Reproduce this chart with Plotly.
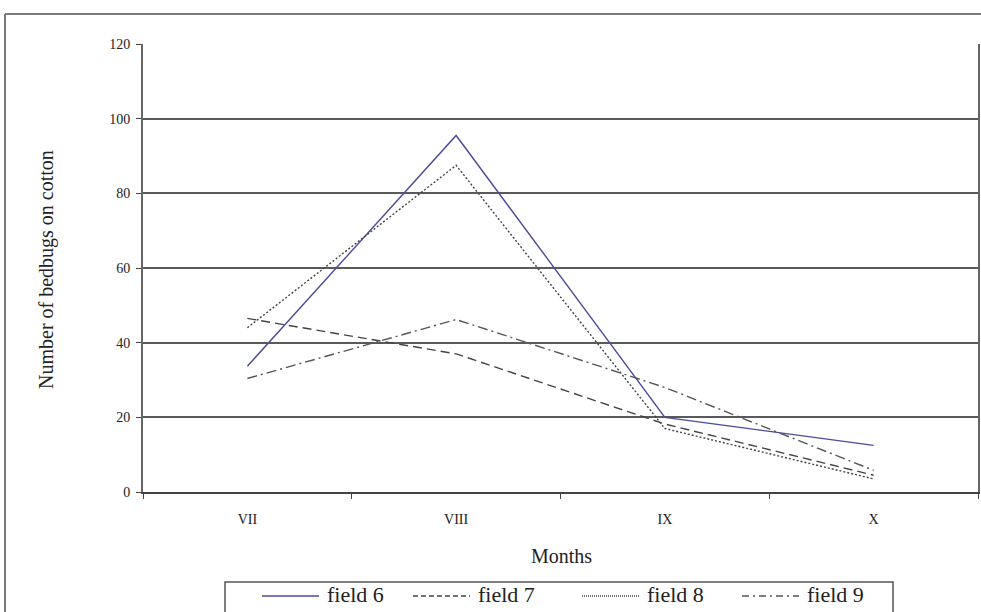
import plotly.graph_objects as go

months = ["VII", "VIII", "IX", "X"]
field6 = [33.7, 95.5, 20.0, 12.5]
field7 = [46.5, 37.0, 18.2, 4.5]
field8 = [44.0, 87.5, 17.0, 3.5]
field9 = [30.4, 46.2, 28.0, 5.8]
series_names = ["field 6", "field 7", "field 8", "field 9"]
y_ticks = [0, 20, 40, 60, 80, 100, 120]

values = [field6, field7, field8, field9]
colors = ["#4b4b9c", "#444444", "#444444", "#555555"]
dashes = ["solid", "9px,5px", "2px,2px", "10px,4px,2px,4px"]
legend_dashes = ["solid", "5px,3px", "1px,1px", "7px,4px,2px,4px"]

serif = "Liberation Serif, Times New Roman, serif"
W, H = 981, 612
L, R, T, B = 143, 3, 44, 120
pw, ph = W - L - R, H - T - B


def px_x(p):
    return (p - L) / pw


def px_y(p):
    return (H - B - p) / ph


fig = go.Figure()
for name, vals, color, dash in zip(series_names, values, colors, dashes):
    fig.add_trace(go.Scatter(
        x=months, y=vals, name=name, mode="lines",
        line=dict(color=color, width=1.4, dash=dash),
        showlegend=False,
    ))

shapes = [
    # outer frame
    dict(type="line", xref="paper", yref="paper",
         x0=px_x(5), x1=px_x(990), y0=px_y(14), y1=px_y(14),
         line=dict(color="#7a7a7a", width=2)),
    dict(type="line", xref="paper", yref="paper",
         x0=px_x(5), x1=px_x(5), y0=px_y(14), y1=px_y(620),
         line=dict(color="#7a7a7a", width=2)),
    # legend box
    dict(type="rect", xref="paper", yref="paper",
         x0=px_x(225), x1=px_x(893), y0=px_y(582), y1=px_y(625),
         line=dict(color="#555555", width=1.5), fillcolor="white", layer="above"),
]
annotations = [
    dict(text="Months", xref="paper", yref="paper", x=px_x(561), y=px_y(556),
         xanchor="center", yanchor="middle", showarrow=False,
         font=dict(family=serif, size=20, color="#222222")),
    dict(text="Number of bedbugs on cotton", xref="paper", yref="paper",
         x=px_x(46), y=px_y(270), textangle=-90,
         xanchor="center", yanchor="middle", showarrow=False,
         font=dict(family=serif, size=20, color="#222222")),
]

line_starts = [262, 413, 582, 742]
for name, color, ld, x0 in zip(series_names, colors, legend_dashes, line_starts):
    shapes.append(dict(type="line", xref="paper", yref="paper",
                       x0=px_x(x0), x1=px_x(x0 + 57), y0=px_y(596), y1=px_y(596),
                       line=dict(color=color, width=1.3, dash=ld), layer="above"))
    annotations.append(dict(text=name, xref="paper", yref="paper",
                            x=px_x(x0 + 63), y=px_y(594), xanchor="left", yanchor="middle",
                            showarrow=False,
                            font=dict(family=serif, size=22, color="#222222")))

fig.update_layout(
    width=W, height=H,
    margin=dict(l=L, r=R, t=T, b=B),
    paper_bgcolor="white", plot_bgcolor="white",
    font=dict(family=serif, color="#222222"),
    showlegend=False,
    xaxis=dict(
        type="category", tickson="boundaries", ticks="outside", ticklen=5,
        tickcolor="#444444", showline=True, linecolor="#444444", linewidth=2,
        showgrid=False, range=[-0.5, 3.5], automargin=False,
        ticklabelstandoff=13,
        tickfont=dict(family=serif, size=14, color="#222222"),
    ),
    yaxis=dict(
        range=[0, 120], tickvals=y_ticks, ticks="outside", ticklen=5,
        tickcolor="#444444", showline=True, linecolor="#666666", linewidth=2,
        mirror=True, showgrid=True, gridcolor="#5a5a5a", gridwidth=1.6,
        zeroline=False, automargin=False, ticklabelstandoff=3,
        tickfont=dict(family=serif, size=14, color="#222222"),
    ),
    shapes=shapes,
    annotations=annotations,
)

fig.write_html("out.html", config={"displayModeBar": False},
               post_script="document.body.style.margin='0';document.body.style.overflow='hidden';")
